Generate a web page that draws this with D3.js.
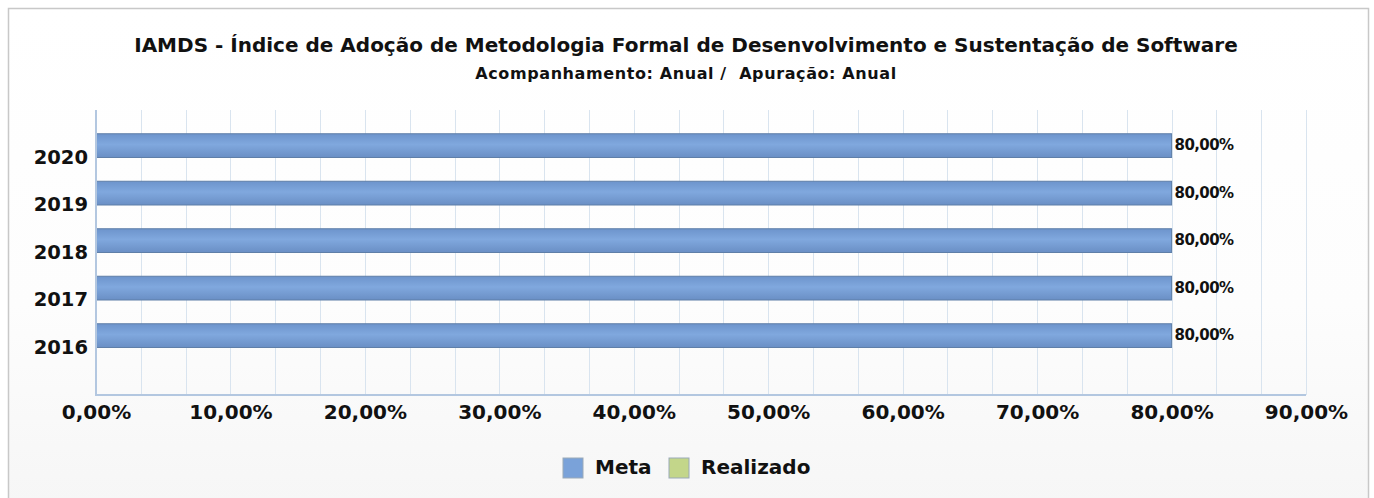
<!DOCTYPE html>
<html>
<head>
<meta charset="utf-8">
<style>
  html, body { margin: 0; padding: 0; background: #fff; }
  svg { display: block; }
  text { font-family: "DejaVu Sans", Verdana, sans-serif; font-weight: bold; fill: #111; }
  .grid line { stroke: #d9e4ef; stroke-width: 1px; }
</style>
</head>
<body>
<svg width="1374" height="498"></svg>
<script src="https://d3js.org/d3.v7.min.js"></script>
<script>

var years = ["2020", "2019", "2018", "2017", "2016"];
var meta = [80, 80, 80, 80, 80];
var realizado = [0, 0, 0, 0, 0];
var xTicks = [0, 10, 20, 30, 40, 50, 60, 70, 80, 90];
var series = ["Meta", "Realizado"];
var seriesColors = ["#7aa2d9", "#c3d68a"];

var svg = d3.select("svg");

var fmt = function(v) { return d3.format(".2f")(v).replace(".", ",") + "%"; };

// background + frame
var defs = svg.append("defs");
var bg = defs.append("linearGradient").attr("id", "bg").attr("x1", 0).attr("y1", 0).attr("x2", 0).attr("y2", 1);
bg.append("stop").attr("offset", "0%").attr("stop-color", "#ffffff");
bg.append("stop").attr("offset", "60%").attr("stop-color", "#fdfdfd");
bg.append("stop").attr("offset", "100%").attr("stop-color", "#f6f6f6");

var barGrad = defs.append("linearGradient").attr("id", "barGrad").attr("x1", 0).attr("y1", 0).attr("x2", 0).attr("y2", 1);
barGrad.append("stop").attr("offset", "0%").attr("stop-color", "#6d94cc");
barGrad.append("stop").attr("offset", "45%").attr("stop-color", "#80a8de");
barGrad.append("stop").attr("offset", "100%").attr("stop-color", "#6a8fc5");

svg.append("rect")
    .attr("x", 8.5).attr("y", 8.5).attr("width", 1360).attr("height", 495)
    .attr("fill", "url(#bg)").attr("stroke", "#c8c8c8").attr("stroke-width", 1.5);

var margin = {left: 96, right: 1306, top: 110, bottom: 395};

var x = d3.scaleLinear().domain([0, 90]).range([margin.left, margin.right]);
var y = d3.scaleBand().domain(years).range([margin.top, margin.bottom]).paddingInner(0).paddingOuter(0.5);
var sub = d3.scaleBand().domain(series).range([0, y.bandwidth()]);

// grid: three lines per labelled step
var gridVals = d3.range(1, 27).map(function(i) { return i * 90 / 27; });
svg.append("g").attr("class", "grid")
  .selectAll("line").data(gridVals).enter().append("line")
    .attr("x1", function(d) { return Math.round(x(d)) + 0.5; })
    .attr("x2", function(d) { return Math.round(x(d)) + 0.5; })
    .attr("y1", margin.top).attr("y2", margin.bottom);

// right border of plot
svg.append("line")
    .attr("x1", margin.right + 0.5).attr("x2", margin.right + 0.5)
    .attr("y1", margin.top).attr("y2", margin.bottom)
    .attr("stroke", "#d9e4ef");

// bars
var rows = years.map(function(yr, i) { return {year: yr, meta: meta[i], realizado: realizado[i]}; });

svg.append("g").selectAll("rect").data(rows).enter().append("rect")
    .attr("x", x(0))
    .attr("y", function(d) { return y(d.year) + sub("Meta"); })
    .attr("width", function(d) { return x(d.meta) - x(0); })
    .attr("height", sub.bandwidth())
    .attr("fill", "url(#barGrad)")
    .attr("stroke", "#5f7fa8").attr("stroke-width", 1);

svg.append("g").selectAll("rect").data(rows).enter().append("rect")
    .attr("x", x(0))
    .attr("y", function(d) { return y(d.year) + sub("Realizado"); })
    .attr("width", function(d) { return x(d.realizado) - x(0); })
    .attr("height", sub.bandwidth())
    .attr("fill", seriesColors[1]);

// value labels
svg.append("g").selectAll("text").data(rows).enter().append("text")
    .attr("x", function(d) { return x(d.meta) + 3; })
    .attr("y", function(d) { return y(d.year) + sub("Meta") + sub.bandwidth() / 2; })
    .attr("dy", "0.3em")
    .style("font-size", "15px")
    .style("letter-spacing", "-0.6px")
    .text(function(d) { return fmt(d.meta); });

// axes lines
svg.append("line")
    .attr("x1", margin.left).attr("x2", margin.left)
    .attr("y1", margin.top).attr("y2", margin.bottom + 1)
    .attr("stroke", "#b3c7e0").attr("stroke-width", 2);
svg.append("line")
    .attr("x1", margin.left - 1).attr("x2", margin.right)
    .attr("y1", margin.bottom).attr("y2", margin.bottom)
    .attr("stroke", "#b3c7e0").attr("stroke-width", 2);

// x axis labels
var xAxis = d3.axisBottom(x).tickValues(xTicks).tickFormat(fmt).tickSize(0).tickPadding(10);
var gx = svg.append("g").attr("transform", "translate(0," + margin.bottom + ")").call(xAxis);
gx.select(".domain").remove();
gx.selectAll("text").style("font-size", "20px").attr("fill", "#111");

// y axis labels
var yAxis = d3.axisLeft(y).tickSize(0).tickPadding(8);
var gy = svg.append("g").attr("transform", "translate(" + margin.left + ",0)").call(yAxis);
gy.select(".domain").remove();
gy.selectAll("text").style("font-size", "19.5px").attr("fill", "#111");

// titles
svg.append("text")
    .attr("x", 686).attr("y", 52)
    .attr("text-anchor", "middle")
    .style("font-size", "20px")
    .text("IAMDS - Índice de Adoção de Metodologia Formal de Desenvolvimento e Sustentação de Software");
svg.append("text")
    .attr("x", 686).attr("y", 79)
    .attr("text-anchor", "middle")
    .style("font-size", "16px")
    .style("letter-spacing", "0.6px")
    .style("white-space", "pre")
    .attr("xml:space", "preserve")
    .text("Acompanhamento: Anual /  Apuração: Anual");

// legend
var legend = svg.append("g");
var legendX = [563, 669];
series.forEach(function(s, i) {
  legend.append("rect")
      .attr("x", legendX[i]).attr("y", 458)
      .attr("width", 20).attr("height", 20)
      .attr("fill", seriesColors[i]).attr("stroke", "#9aa9b8").attr("stroke-width", 1);
  legend.append("text")
      .attr("x", legendX[i] + 32).attr("y", 467).attr("dy", "0.36em")
      .style("font-size", "20px")
      .text(s);
});

</script>
</body>
</html>
